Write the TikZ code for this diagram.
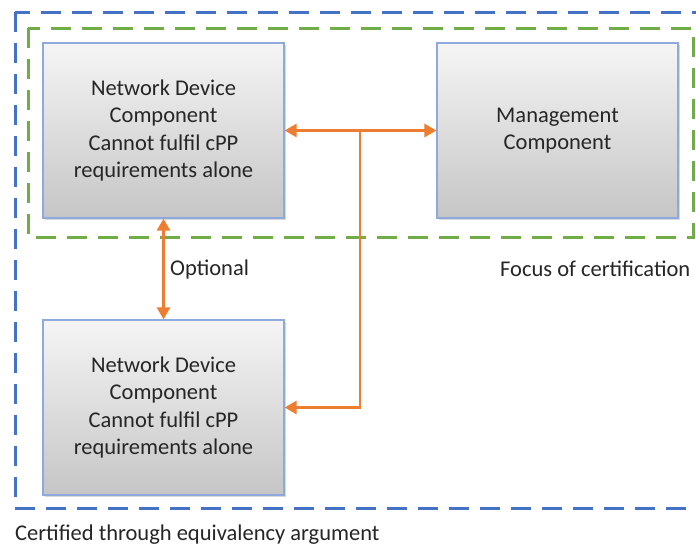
\documentclass[tikz,border=0pt]{standalone}
\usepackage{fontspec}
\setmainfont{Carlito}
\usetikzlibrary{arrows.meta,shadows}
\definecolor{borange}{HTML}{ED7D31}
\definecolor{bgreen}{HTML}{70AD47}
\definecolor{bblue}{HTML}{4472C4}
\definecolor{bedge}{HTML}{8EA9DB}
\definecolor{btext}{HTML}{262626}
\tikzset{
  comp/.style={draw=bedge, line width=1.3pt, top color=gray!8, bottom color=gray!45,
    minimum width=241pt, minimum height=175pt, inner sep=0pt, align=center,
    text=btext, font=\fontsize{22.5}{27.3}\selectfont,
    drop shadow={shadow xshift=2pt, shadow yshift=-2pt, fill=gray!60, opacity=0.5}},
  conn/.style={draw=borange, line width=2.8pt},
  tip/.style={-{Triangle[length=12pt,width=13pt]}},
  lbl/.style={text=btext, font=\fontsize{22.5}{27}\selectfont, inner sep=0pt, anchor=west},
  frame/.style={line width=3pt, dash pattern=on 20pt off 11pt}
}
\begin{document}
\begin{tikzpicture}[x=1pt,y=-1pt]
\clip (0,0) rectangle (696,549);
\fill[white] (0,0) rectangle (696,549);
\draw[frame, bblue] (15,12) rectangle (720,508);
\draw[frame, bgreen] (28,28) rectangle (693,237);
\node[comp] (b1) at (163.5,130.5) {Network Device\\Component\\Cannot fulfil cPP\\requirements alone};
\node[comp] (mg) at (557.5,130.5) {Management\\Component};
\node[comp] (b2) at (163.5,407.5) {Network Device\\Component\\Cannot fulfil cPP\\requirements alone};
\coordinate (j) at (360,130.5);
\draw[conn, {Triangle[length=12pt,width=13pt]}-{Triangle[length=12pt,width=13pt]}] (b1.south) -- (b2.north);
\draw[conn, tip] (j) -- (b1.east);
\draw[conn, tip] (j) -- (mg.west);
\draw[conn, tip] (j) |- (b2.east);
\node[lbl] (opt) at (170,269) {Optional};
\node[lbl] (foc) at (500,269) {Focus of certification};
\node[lbl] (cer) at (15,535) {Certified through equivalency argument};
\end{tikzpicture}
\end{document}
